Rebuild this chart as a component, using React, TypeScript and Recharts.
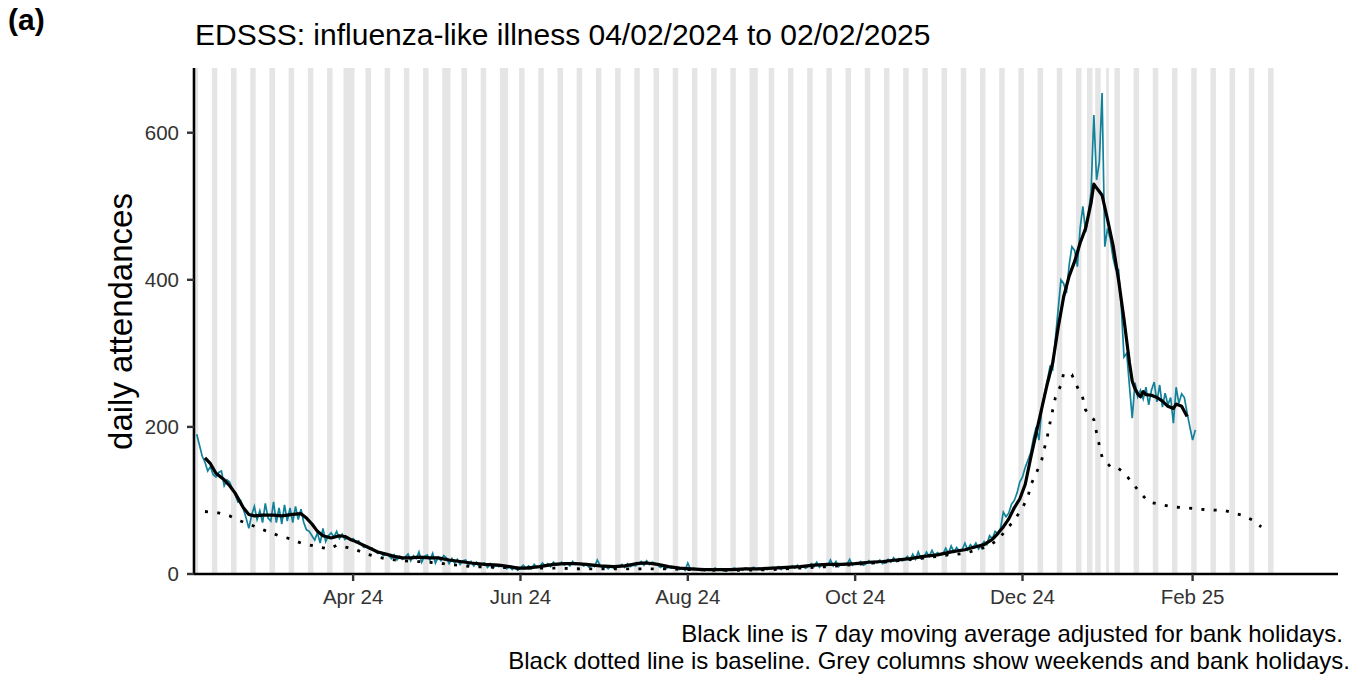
import * as React from 'react';
import { ComposedChart, Line, XAxis, YAxis, ReferenceArea } from 'recharts';

// day 0 = Sunday 04/02/2024
const dailyAttendances = [
  190, 175, 160, 152, 140, 146, 135,
  132, 138, 140, 120, 128, 125, 115,
  108, 98, 100, 88, 76, 62, 80,
  92, 74, 86, 70, 96, 76, 72,
  98, 70, 90, 68, 94, 72, 90,
  70, 92, 74, 88, 70, 60, 58,
  52, 46, 56, 42, 62, 44, 52,
  56, 50, 58, 48, 54, 47, 50,
  46, 48, 43, 45, 40, 36, 38,
  34, 35, 31, 28, 30, 25, 27,
  25, 21, 26, 19, 24, 20, 23,
  27, 18, 25, 21, 30, 16, 24,
  26, 19, 28, 15, 23, 18, 25,
  22, 14, 21, 15, 20, 13, 18,
  19, 12, 17, 11, 16, 10, 14,
  15, 9, 14, 8, 12, 10, 11,
  11, 7, 10, 6, 9, 5, 8,
  12, 8, 11, 7, 13, 9, 10,
  15, 11, 14, 10, 16, 12, 13,
  16, 12, 15, 11, 17, 13, 14,
  14, 11, 13, 9, 12, 10, 19,
  12, 8, 10, 7, 11, 8, 9,
  10, 13, 9, 14, 10, 12, 11,
  14, 17, 12, 18, 13, 16, 15,
  12, 9, 11, 7, 10, 8, 9,
  9, 6, 8, 5, 15, 6, 8,
  7, 5, 6, 4, 7, 5, 6,
  8, 5, 7, 4, 6, 5, 7,
  8, 6, 7, 5, 8, 6, 7,
  9, 6, 8, 5, 7, 6, 8,
  9, 7, 10, 6, 9, 7, 8,
  11, 8, 12, 9, 10, 8, 11,
  14, 10, 16, 9, 13, 11, 12,
  19, 11, 17, 10, 14, 12, 13,
  20, 12, 15, 13, 17, 12, 14,
  18, 14, 17, 15, 19, 14, 16,
  20, 16, 22, 17, 21, 18, 19,
  24, 19, 27, 20, 30, 21, 22,
  30, 24, 32, 25, 29, 26, 27,
  35, 28, 38, 30, 36, 31, 33,
  42, 33, 40, 36, 42, 34, 39,
  44, 40, 52, 48, 58, 55, 62,
  84, 78, 83, 95, 100, 110, 125,
  132, 145, 155, 165, 185, 200, 182,
  225, 245, 262, 282, 278, 320, 360,
  400, 395, 382, 420, 445, 440, 418,
  470, 500, 465, 490, 520, 624, 536,
  560, 654, 445, 470, 455, 430, 414,
  414, 363, 295, 300, 255, 212, 260,
  241, 250, 238, 254, 230, 250, 261,
  234, 257, 227, 246, 230, 240, 205,
  254, 232, 245, 240, 219, 200, 182,
  196,
];

// 7 day moving average (read at points along the black line)
const maDays = [
  3, 5, 7, 10, 12, 14, 17, 19, 21, 24, 28, 31, 35, 38, 40, 42, 44, 46, 49, 52,
  54, 56, 58, 62, 66, 69, 72, 75, 78, 81, 85, 88, 92, 96, 100, 105, 110, 114, 117, 120,
  125, 130, 134, 138, 142, 147, 152, 156, 160, 164, 168, 172, 176, 180, 185, 190, 195, 200, 205, 210,
  215, 220, 225, 230, 235, 240, 245, 250, 255, 260, 265, 270, 275, 280, 284, 287, 290, 292, 294, 296,
  298, 300, 302, 304, 306, 308, 310, 312, 314, 316, 318, 320, 322, 324, 326, 327, 328, 329, 330, 332,
  334, 336, 338, 340, 341, 342, 343, 344, 345, 346, 348, 350, 352, 354, 356, 357, 359, 361,
];
const maValues = [
  158, 150, 137, 128, 120, 110, 90, 81, 79, 80, 80, 79, 81, 82, 76, 68, 58, 52, 49, 52,
  51, 47, 44, 37, 30, 27, 24, 22, 22, 23, 22, 22, 19, 17, 15, 13, 12, 10, 8, 8,
  10, 13, 14, 14, 13, 11, 10, 11, 14, 15, 13, 10, 8, 7, 6, 6, 6, 7, 7, 8,
  9, 10, 12, 13, 13, 14, 16, 17, 19, 21, 24, 26, 30, 33, 37, 40, 47, 55, 64, 75,
  90, 102, 122, 158, 192, 225, 258, 287, 335, 377, 405, 425, 450, 470, 505, 530, 525, 520, 515, 482,
  447, 400, 346, 287, 262, 252, 245, 241, 248, 244, 243, 240, 235, 228, 225, 231, 228, 214,
];

// baseline (dotted)
const baselineDays = [
  3, 8, 12, 16, 21, 25, 30, 34, 38, 43, 48, 51, 55, 58, 62, 66, 70, 75, 80, 85,
  90, 95, 100, 110, 120, 130, 140, 150, 160, 170, 180, 190, 200, 210, 220, 230, 240, 250, 258, 266,
  274, 280, 288, 292, 295, 298, 301, 303, 304, 306, 308, 309, 310, 311, 312, 313, 315, 316, 319, 321,
  323, 324, 327, 328, 329, 330, 333, 335, 338, 341, 344, 347, 352, 356, 361, 366, 375, 381, 385, 388,
];
const baselineValues = [
  85, 83, 79, 72, 65, 59, 52, 48, 42, 38, 34, 39, 36, 33, 27, 23, 20, 18, 17, 16,
  14, 12, 10, 9, 8, 8, 7, 7, 7, 7, 6, 5, 5, 6, 8, 10, 13, 16, 19, 22,
  26, 28, 37, 46, 60, 73, 90, 105, 121, 137, 155, 171, 186, 205, 223, 240, 257, 273, 271, 254,
  239, 223, 210, 192, 175, 159, 146, 146, 138, 124, 110, 98, 94, 91, 90, 88, 86, 80, 73, 64,
];

const bankHolidays = [54, 57, 92, 113, 204, 325, 326, 332];
const lastShadedDay = 392;

const tickDays = [57, 118, 179, 240, 301, 363];
const tickLabels = ['Apr 24', 'Jun 24', 'Aug 24', 'Oct 24', 'Dec 24', 'Feb 25'];
const yTicks = [0, 200, 400, 600];

const font = '"Liberation Sans", Arial, sans-serif';

const lastDay = Math.max(dailyAttendances.length - 1, baselineDays[baselineDays.length - 1]);
const rows: any[] = [];
for (let d = 0; d <= lastDay; d++) {
  rows.push({ day: d, count: d < dailyAttendances.length ? dailyAttendances[d] : null, ma: null, baseline: null });
}
maDays.forEach((d, i) => { rows[d].ma = maValues[i]; });
baselineDays.forEach((d, i) => { rows[d].baseline = baselineValues[i]; });

// weekends and bank holidays merged into columns
const columns: number[][] = [];
for (let d = 0; d <= lastShadedDay; d++) {
  const wd = new Date(2024, 1, 4 + d).getDay();
  if (wd !== 0 && wd !== 6 && bankHolidays.indexOf(d) < 0) continue;
  const last = columns[columns.length - 1];
  if (last && last[1] === d - 0.5) last[1] = d + 0.5;
  else columns.push([d - 0.5, d + 0.5]);
}

const tickStyle = { fill: '#333', fontSize: 20.5, fontFamily: font };

export default function App() {
  return (
    <div style={{ position: 'relative', width: 1367, height: 675, overflow: 'hidden', fontFamily: font, background: '#fff' }}>
      <style>{'body { margin: 0; overflow: hidden; }'}</style>
      <div style={{ position: 'absolute', left: 8, top: 5, fontSize: 30, fontWeight: 'bold', lineHeight: 1 }}>(a)</div>
      <div style={{ position: 'absolute', left: 195, top: 20, fontSize: 30, lineHeight: 1, whiteSpace: 'nowrap' }}>
        EDSSS: influenza-like illness 04/02/2024 to 02/02/2025
      </div>
      <div style={{
        position: 'absolute', left: 120 - 160, top: 321 - 16.5, width: 320, textAlign: 'center',
        fontSize: 33, lineHeight: 1, transform: 'rotate(-90deg)', whiteSpace: 'nowrap'
      }}>daily attendances</div>
      <ComposedChart width={1367} height={640} data={rows}
        margin={{ top: 68, right: 29, left: 0, bottom: 20 }}
        style={{ position: 'absolute', left: 0, top: 0 }}>
        {columns.map((c, i) => (
          <ReferenceArea key={i} x1={c[0]} x2={c[1]} fill="#e5e5e5" fillOpacity={1} stroke="none" />
        ))}
        <XAxis dataKey="day" type="number" domain={[-1, 416]} allowDataOverflow ticks={tickDays}
          tickFormatter={(v: number) => tickLabels[tickDays.indexOf(v)]}
          height={46} tickSize={7} tickMargin={8}
          axisLine={{ stroke: '#000', strokeWidth: 2.6 }}
          tickLine={{ stroke: '#333', strokeWidth: 2.4 }}
          tick={tickStyle} />
        <YAxis type="number" domain={[0, 688]} allowDataOverflow ticks={yTicks} width={194}
          tickSize={7} tickMargin={8}
          axisLine={{ stroke: '#000', strokeWidth: 2.6 }}
          tickLine={{ stroke: '#333', strokeWidth: 2.4 }}
          tick={tickStyle} />
        <Line dataKey="count" type="linear" stroke="#12829a" strokeWidth={1.7} dot={false}
          connectNulls={false} isAnimationActive={false} />
        <Line dataKey="baseline" type="linear" stroke="#000" strokeWidth={2.8} strokeDasharray="3 9.3"
          dot={false} connectNulls isAnimationActive={false} />
        <Line dataKey="ma" type="linear" stroke="#000" strokeWidth={3.2} dot={false}
          connectNulls isAnimationActive={false} strokeLinejoin="round" />
      </ComposedChart>
      <div style={{ position: 'absolute', right: 1367 - 1343, top: 622, fontSize: 24, lineHeight: 1, whiteSpace: 'nowrap' }}>
        Black line is 7 day moving average adjusted for bank holidays.
      </div>
      <div style={{ position: 'absolute', right: 1367 - 1350, top: 649, fontSize: 24, lineHeight: 1, whiteSpace: 'nowrap' }}>
        Black dotted line is baseline. Grey columns show weekends and bank holidays.
      </div>
    </div>
  );
}
